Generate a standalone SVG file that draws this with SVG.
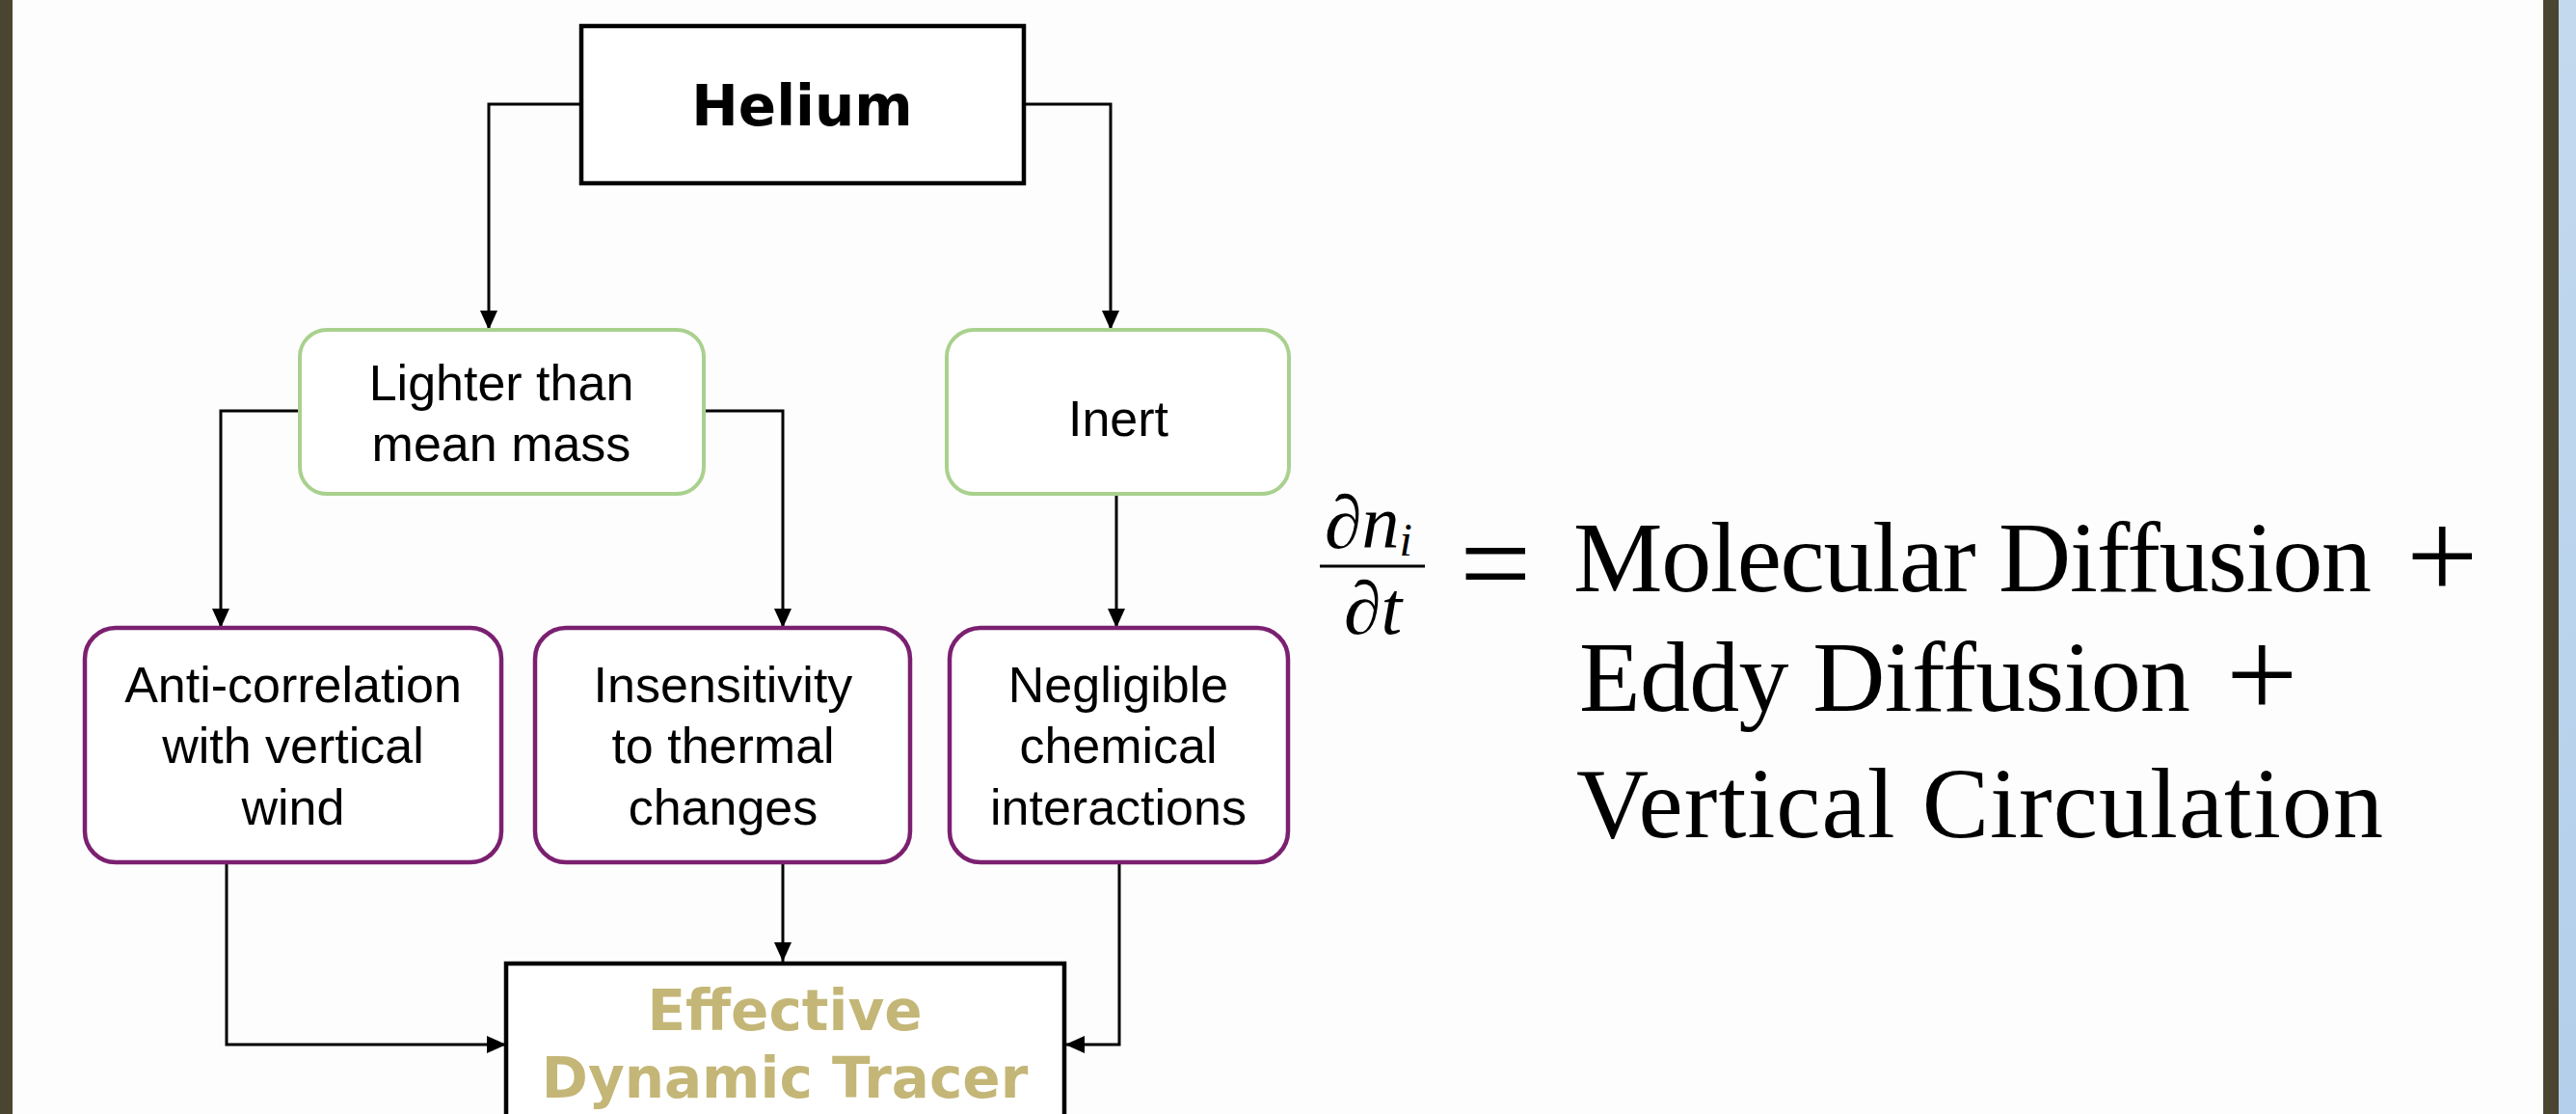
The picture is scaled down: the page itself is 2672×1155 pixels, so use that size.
<svg xmlns="http://www.w3.org/2000/svg" width="2672" height="1155" viewBox="0 0 2672 1155">
<defs>
<marker id="arr" viewBox="0 0 20 20" refX="20" refY="10" markerWidth="20" markerHeight="20" markerUnits="userSpaceOnUse" orient="auto">
<path d="M0,1 L20,10 L0,19 Z" fill="#000"/>
</marker>
<linearGradient id="blue" x1="0" y1="0" x2="0" y2="1">
<stop offset="0" stop-color="#c3d9ee"/>
<stop offset="1" stop-color="#b3cfeb"/>
</linearGradient>
</defs>
<style>
.conn{fill:none;stroke:#000;stroke-width:3;marker-end:url(#arr)}
.sq{fill:#fff;stroke:#000;stroke-width:4.5}
.green{fill:#fff;stroke:#a9d18e;stroke-width:4}
.purple{fill:#fff;stroke:#7b2070;stroke-width:4.5}
.lbl{font-family:"Liberation Sans",Arial,sans-serif;font-size:52px;fill:#000;text-anchor:middle}
.bold{font-family:"DejaVu Sans",Verdana,sans-serif;font-weight:bold;font-size:58px;text-anchor:middle}
.eq{font-family:"Liberation Serif","Times New Roman",serif;fill:#000}
</style>
<rect x="0" y="0" width="2672" height="1155" fill="#fdfdfd"/>
<rect x="0" y="0" width="13" height="1155" fill="#4a4530"/>
<rect x="2638" y="0" width="16" height="1155" fill="#4a4530"/>
<rect x="2654" y="0" width="18" height="1155" fill="url(#blue)"/>

<g id="connectors">
<path class="conn" d="M603 108 H507 V342"/>
<path class="conn" d="M1062 108 H1152 V342"/>
<path class="conn" d="M311 426 H229 V651"/>
<path class="conn" d="M730 426 H812 V651"/>
<path class="conn" d="M1158 512 V651"/>
<path class="conn" d="M235 894 V1083 H525"/>
<path class="conn" d="M812 894 V997"/>
<path class="conn" d="M1161 894 V1083 H1105"/>
</g>

<g id="helium">
<rect class="sq" x="603" y="27" width="459" height="163"/>
<text class="bold" x="832" y="130" fill="#000">Helium</text>
</g>
<g id="lighter">
<rect class="green" x="311" y="342" width="419" height="170" rx="28"/>
<text class="lbl" x="520" y="415">Lighter than</text>
<text class="lbl" x="520" y="478">mean mass</text>
</g>
<g id="inert">
<rect class="green" x="982" y="342" width="355" height="170" rx="28"/>
<text class="lbl" x="1160" y="452">Inert</text>
</g>
<g id="anti">
<rect class="purple" x="88" y="651" width="432" height="243" rx="32"/>
<text class="lbl" x="304" y="728">Anti-correlation</text>
<text class="lbl" x="304" y="791">with vertical</text>
<text class="lbl" x="304" y="855">wind</text>
</g>
<g id="insensitivity">
<rect class="purple" x="555" y="651" width="389" height="243" rx="32"/>
<text class="lbl" x="750" y="728">Insensitivity</text>
<text class="lbl" x="750" y="791">to thermal</text>
<text class="lbl" x="750" y="855">changes</text>
</g>
<g id="negligible">
<rect class="purple" x="985" y="651" width="351" height="243" rx="32"/>
<text class="lbl" x="1160" y="728">Negligible</text>
<text class="lbl" x="1160" y="791">chemical</text>
<text class="lbl" x="1160" y="855">interactions</text>
</g>
<g id="effective">
<rect class="sq" x="525" y="999" width="579" height="200"/>
<text class="bold" x="814" y="1068" fill="#c4b677">Effective</text>
<text class="bold" x="814" y="1138" fill="#c4b677">Dynamic Tracer</text>
</g>

<g id="equation">
<text class="eq" x="1374" y="568" font-size="78" font-style="italic">∂n<tspan font-size="48" dy="8">i</tspan></text>
<line x1="1369" y1="587" x2="1478" y2="587" stroke="#000" stroke-width="3"/>
<text class="eq" x="1424" y="657" font-size="78" font-style="italic" text-anchor="middle">∂t</text>
<text class="eq" x="1514" y="628" font-size="132">=</text>
<text class="eq" x="1632" y="613" font-size="104" textLength="828" lengthAdjust="spacing">Molecular Diffusion</text>
<text class="eq" x="2496" y="620" font-size="132">+</text>
<text class="eq" x="1638" y="737" font-size="104" textLength="634" lengthAdjust="spacing">Eddy Diffusion</text>
<text class="eq" x="2309" y="743" font-size="132">+</text>
<text class="eq" x="1635" y="868" font-size="104" textLength="837" lengthAdjust="spacing">Vertical Circulation</text>
</g>
</svg>
